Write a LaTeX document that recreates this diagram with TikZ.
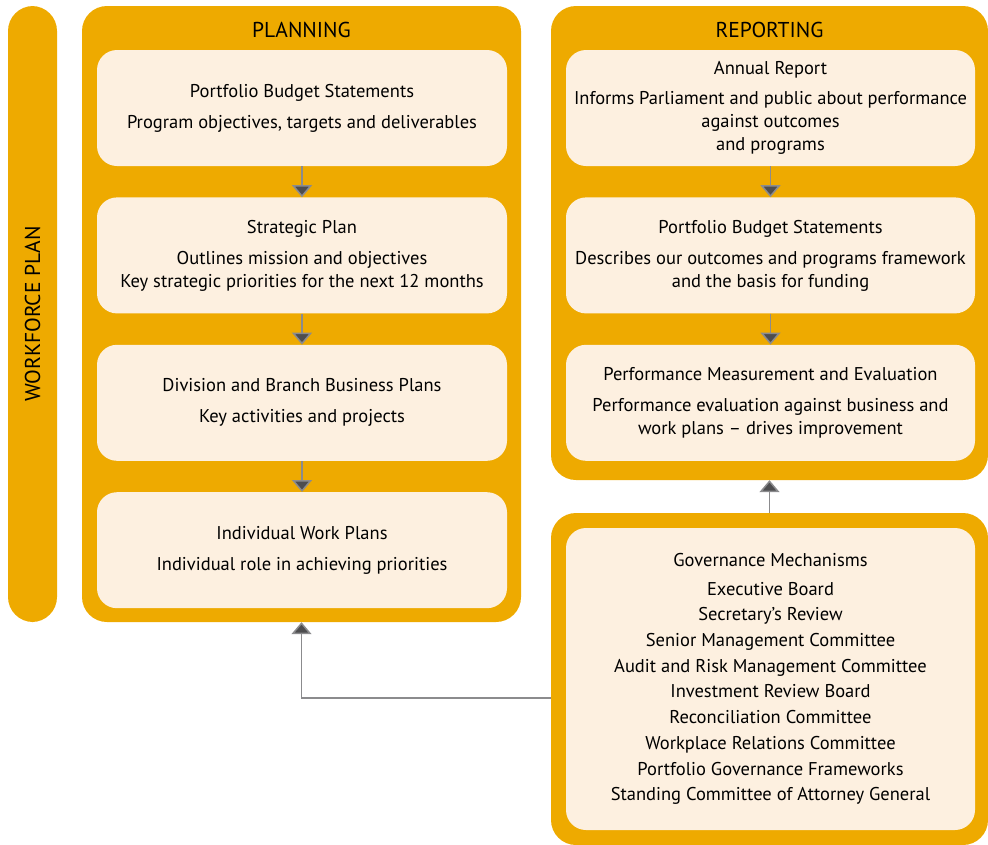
\documentclass[tikz,border=0pt]{standalone}
\usepackage{fontspec}
\setmainfont{PT Sans}
\usetikzlibrary{arrows.meta,positioning}
\definecolor{wpgold}{RGB}{238,170,0}
\definecolor{wpcream}{RGB}{253,240,224}
\definecolor{wpgrey}{RGB}{77,77,79}
\tikzset{
  panel/.style={fill=wpgold,rounded corners=25pt,inner sep=0pt},
  card/.style={fill=wpcream,rounded corners=20pt,minimum width=410pt,minimum height=116pt,
    align=center,inner sep=0pt,font=\fontsize{18.5}{23}\selectfont},
  paneltitle/.style={font=\fontsize{21.5}{24}\selectfont,inner sep=0pt},
  flow/.style={draw=wpgrey!65,line width=1.5pt,-{Triangle[width=20pt,length=12pt,fill=wpgrey]}},
}

\begin{document}
\begin{tikzpicture}[x=1pt,y=-1pt]
  \useasboundingbox (0,0) rectangle (988,844);
  % workforce bar
  \node[panel,minimum width=49pt,minimum height=616pt] (wf) at (32.5,314) {};
  \node[paneltitle,rotate=90] (wftitle) at (wf) {WORKFORCE PLAN};
  % planning column
  \node[panel,minimum width=439pt,minimum height=616pt] (plan) at (301.5,314) {};
  \node[paneltitle] (plantitle) at ([yshift=-24pt]plan.north) {PLANNING};
  \node[card] (p1) at (302,108) {Portfolio Budget Statements\\[8pt]Program objectives, targets and deliverables};
  \node[card,below=31pt of p1] (p2) {Strategic Plan\\[8pt]Outlines mission and objectives\\Key strategic priorities for the next 12 months};
  \node[card,below=31pt of p2] (p3) {Division and Branch Business Plans\\[8pt]Key activities and projects};
  \node[card,below=31pt of p3] (p4) {Individual Work Plans\\[8pt]Individual role in achieving priorities};
  % reporting column
  \node[panel,minimum width=437pt,minimum height=474pt] (rep) at (769.5,243) {};
  \node[paneltitle] (reptitle) at ([yshift=-24pt]rep.north) {REPORTING};
  \node[card,minimum width=409pt] (r1) at (770.5,108) {Annual Report\\[7pt]Informs Parliament and public about performance\\against outcomes\\and programs};
  \node[card,minimum width=409pt,below=31pt of r1] (r2) {Portfolio Budget Statements\\[8pt]Describes our outcomes and programs framework\\and the basis for funding};
  \node[card,minimum width=409pt,below=31pt of r2] (r3) {Performance Measurement and Evaluation\\[8pt]Performance evaluation against business and\\work plans -- drives improvement};
  % governance
  \node[panel,minimum width=437pt,minimum height=332pt] (gov) at (769.5,679) {};
  \node[card,minimum width=409pt,minimum height=302pt,font=\fontsize{18.5}{25.7}\selectfont] (g1) at (770.5,679) {Governance Mechanisms\\[3pt]Executive Board\\Secretary’s Review\\Senior Management Committee\\Audit and Risk Management Committee\\Investment Review Board\\Reconciliation Committee\\Workplace Relations Committee\\Portfolio Governance Frameworks\\Standing Committee of Attorney General};
  % connectors
  \draw[flow] (p1) -- (p2);
  \draw[flow] (p2) -- (p3);
  \draw[flow] (p3) -- (p4);
  \draw[flow] (r1) -- (r2);
  \draw[flow] (r2) -- (r3);
  \draw[flow] (gov.north) -- (rep.south);
  \draw[flow] ([yshift=-19pt]gov.west) -| (plan.south);
\end{tikzpicture}
\end{document}
